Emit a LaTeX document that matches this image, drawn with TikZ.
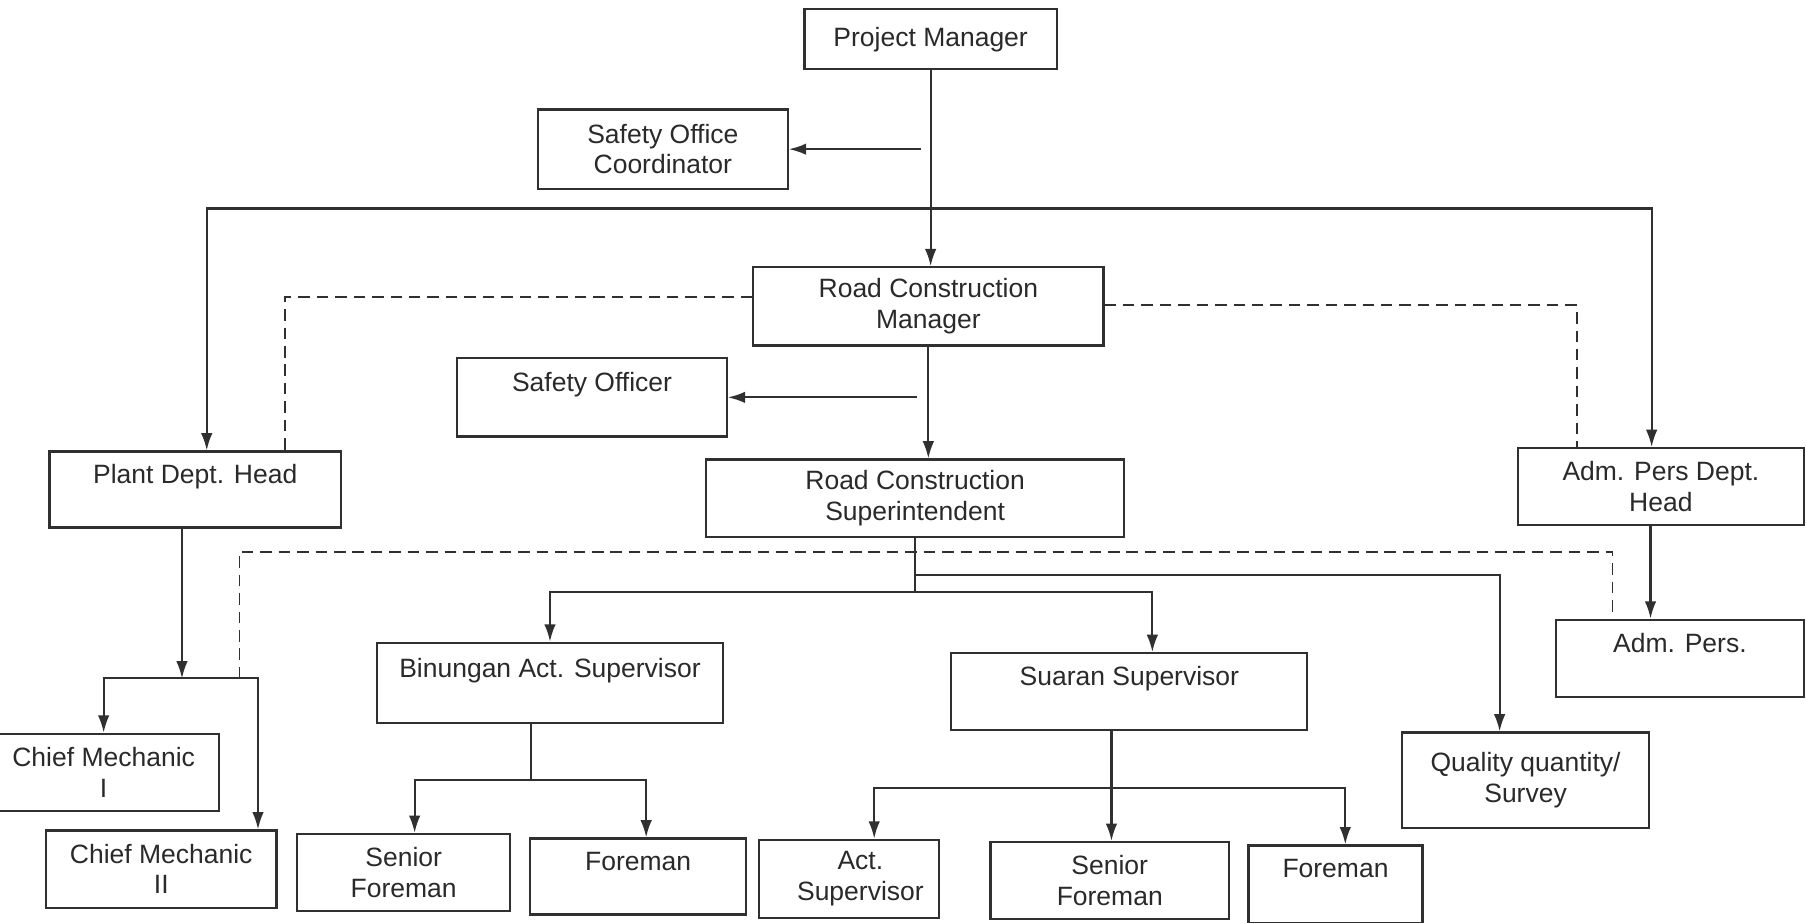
\documentclass[tikz,border=0pt]{standalone}
\usepackage{fontspec}
\setmainfont{Liberation Sans}
\usetikzlibrary{arrows.meta}
\definecolor{linec}{HTML}{303030}
\definecolor{textc}{HTML}{2A2A2A}
\begin{document}
\begin{tikzpicture}[x=1pt,y=-1pt,
  box/.style={draw=linec, line width=1.9pt, align=center, inner sep=0pt, text=textc,
              font=\fontsize{23}{26.5}\selectfont},
  arr/.style={draw=linec, line width=1.8pt, -{Latex[length=15pt,width=10pt]}},
  arrtwo/.style={draw=linec, line width=1.8pt, {Latex[length=15pt,width=10pt]}-{Latex[length=15pt,width=10pt]}},
  ln/.style={draw=linec, line width=1.8pt},
  dsh/.style={draw=linec, line width=1.6pt, dash pattern=on 10pt off 6pt}]
\fill[white] (0,0) rectangle (1568,801);
\useasboundingbox (0,0) rectangle (1568,801);

% boxes
\node[box, minimum width=219pt, minimum height=52pt] (pm)   at (808,34)  {Project Manager};
\node[box, minimum width=217pt, minimum height=69pt] (soc)  at (575.5,129.5) {Safety Office\\Coordinator};
\node[box, minimum width=304pt, minimum height=68pt] (rcm)  at (806,266)   {Road Construction\\Manager};
\node[box, minimum width=234pt, minimum height=68pt] (so)   at (514,345)   {Safety Officer\\~};
\node[box, minimum width=253pt, minimum height=66pt] (pdh)  at (169.5,425) {Plant Dept. Head\\~};
\node[box, minimum width=363pt, minimum height=67pt] (rcs)  at (794.5,432.5) {Road Construction\\Superintendent};
\node[box, minimum width=248pt, minimum height=67pt] (apdh) at (1442,422.5) {Adm. Pers Dept.\\Head};
\node[box, minimum width=215pt, minimum height=67pt] (ap)   at (1458.5,571.5) {Adm. Pers.\\~};
\node[box, minimum width=301pt, minimum height=70pt] (bin)  at (477.5,593) {Binungan Act. Supervisor\\~};
\node[box, minimum width=309pt, minimum height=67pt] (sua)  at (980.5,600.5) {Suaran Supervisor\\~};
\node[box, minimum width=215pt, minimum height=83pt] (qq)   at (1324.5,677.5) {Quality quantity/\\Survey};
\node[box, minimum width=200pt, minimum height=67pt] (cmone) at (90,670.5) {Chief Mechanic\\I};
\node[box, minimum width=200pt, minimum height=67pt] (cmtwo) at (140,754.5) {Chief Mechanic\\II};
\node[box, minimum width=185pt, minimum height=67pt] (sfone) at (350.5,757.5) {Senior\\Foreman};
\node[box, minimum width=188pt, minimum height=66pt] (fmone) at (554,761) {Foreman\\~};
\node[box, minimum width=156pt, minimum height=68pt] (asv)  at (737,763) {\hspace*{20pt}Act.\\\hspace*{20pt}Supervisor};
\node[box, minimum width=207pt, minimum height=67pt] (sftwo) at (963.5,764.5) {Senior\\Foreman};
\node[box, minimum width=151pt, minimum height=67pt] (fmtwo) at (1159.5,767.5) {Foreman\\~};

% level coordinates
\coordinate (hb)  at (805,181);
\coordinate (cmj) at (158,589);
\coordinate (dl)  at (0,479);
\coordinate (lyone) at (0,514);
\coordinate (lytwo) at (0,499);
\coordinate (lythree) at (0,677);
\coordinate (lyfour) at (0,684);

% top
\draw[arr] (pm.south) -- (pm.south |- rcm.north);
\draw[arr] ([xshift=-8pt]pm.south |- soc.east) -- (soc.east);
\draw[arrtwo] ([xshift=10pt]pdh.north) |- (hb) -| ([xshift=-8pt]apdh.north);

% road construction manager
\draw[arr] (rcm.south) -- (rcm.south |- rcs.north);
\draw[arr] ([xshift=-10pt]rcm.south |- so.east) -- (so.east);
\draw[dsh] ([yshift=8pt]rcm.west) -| ([xshift=78pt]pdh.north);
\draw[dsh] ([yshift=1pt]rcm.east) -| ([xshift=-73pt]apdh.north);

% plant dept
\draw[arr] ([xshift=-11.5pt]pdh.south) -- (cmj);
\draw[arrtwo] (cmone.north) |- (cmj) -| ([xshift=84pt]cmtwo.north);
\draw[dsh] ([xshift=38.5pt]pdh.south |- cmj) |- ([xshift=-58.5pt]ap.north |- dl) -- ([xshift=-58.5pt]ap.north);

% superintendent
\draw[ln] (rcs.south) -- (rcs.south |- lyone);
\draw[arrtwo] (bin.north) |- ([xshift=20pt]sua.north |- lyone) -- ([xshift=20pt]sua.north);
\draw[arr] (rcs.south |- lytwo) -| ([xshift=-22.5pt]qq.north);

% adm pers
\draw[arr] ([xshift=-9pt]apdh.south) -- ([xshift=-9pt]apdh.south |- ap.north);

% binungan
\draw[ln] ([xshift=-16.5pt]bin.south) -- ([xshift=-16.5pt]bin.south |- lythree);
\draw[arrtwo] ([xshift=9.5pt]sfone.north) |- ([xshift=7pt]fmone.north |- lythree) -- ([xshift=7pt]fmone.north);

% suaran
\draw[arr] ([xshift=-15.5pt]sua.south) -- ([xshift=-15.5pt]sua.south |- sftwo.north);
\draw[arrtwo] ([xshift=22pt]asv.north) |- ([xshift=8.5pt]fmtwo.north |- lyfour) -- ([xshift=8.5pt]fmtwo.north);
\end{tikzpicture}
\end{document}
